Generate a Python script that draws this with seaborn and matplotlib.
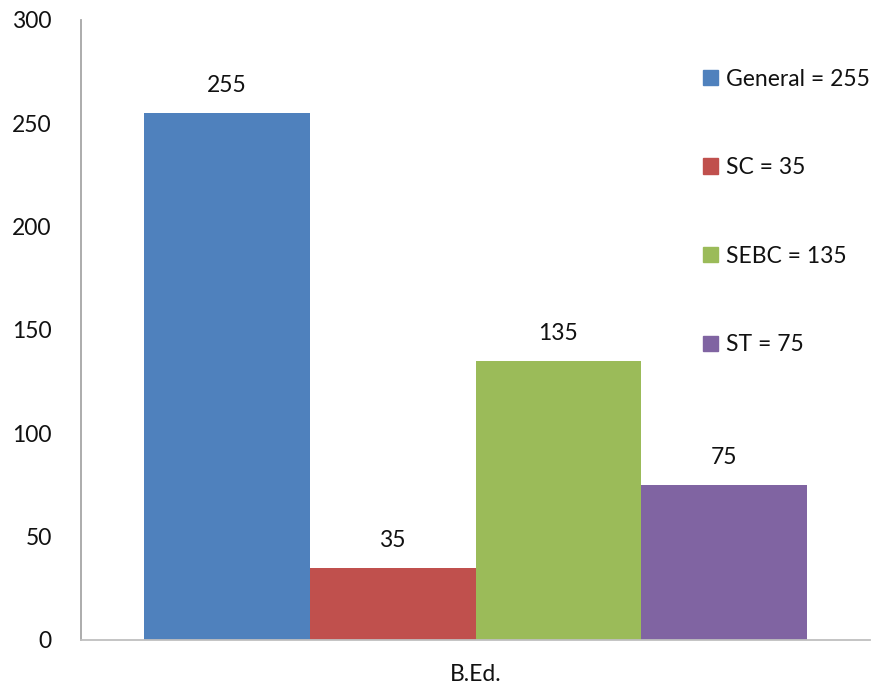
import matplotlib
matplotlib.use("Agg")
import matplotlib.pyplot as plt
import seaborn as sns
import pandas as pd

# Chart data
course = ["B.Ed."]
categories = ["General", "SC", "SEBC", "ST"]
values = [255, 35, 135, 75]
colors = ["#4F81BD", "#C0504D", "#9BBB59", "#8064A2"]
yticks = [0, 50, 100, 150, 200, 250, 300]

sns.set_style("white")
plt.rcParams["font.family"] = ["Lato", "DejaVu Sans"]
FS = 16.5

df = pd.DataFrame({
    "course": course * len(categories),
    "category": categories,
    "value": values,
})

fig = plt.figure(figsize=(8.83, 6.89), dpi=100)
ax = fig.add_axes([81 / 883, 1 - 640 / 689, 789 / 883, 620 / 689])

sns.barplot(data=df, x="course", y="value", hue="category",
            hue_order=categories, palette=colors, width=0.84,
            saturation=1, linewidth=0, ax=ax, legend=False)

for cont in ax.containers:
    ax.bar_label(cont, padding=12, fontsize=FS, color="#111111")

ax.set_ylim(0, 300)
ax.set_xlim(-0.5, 0.5)
ax.set_yticks(yticks)
ax.set_yticklabels([str(t) for t in yticks], fontsize=FS, color="#111111")
ax.tick_params(axis="y", length=0, pad=21)
ax.tick_params(axis="x", length=0, pad=17, labelsize=FS, labelcolor="#111111")
ax.set_xlabel("")
ax.set_ylabel("")

for side in ["top", "right"]:
    ax.spines[side].set_visible(False)
ax.spines["left"].set_color("#A6A6A6")
ax.spines["bottom"].set_color("#BFBFBF")
ax.spines["left"].set_linewidth(1.3)
ax.spines["bottom"].set_linewidth(1.3)

# legend with value text
handles = [plt.Rectangle((0, 0), 1, 1, color=c) for c in colors]
labels = [f"{c} = {v}" for c, v in zip(categories, values)]
ax.legend(handles, labels, loc="upper left", bbox_to_anchor=(0.762, 0.955),
          frameon=False, fontsize=FS, handlelength=0.65, handleheight=0.65,
          handletextpad=0.35, labelspacing=2.95, labelcolor="#111111")

fig.savefig("out.png", dpi=100)
